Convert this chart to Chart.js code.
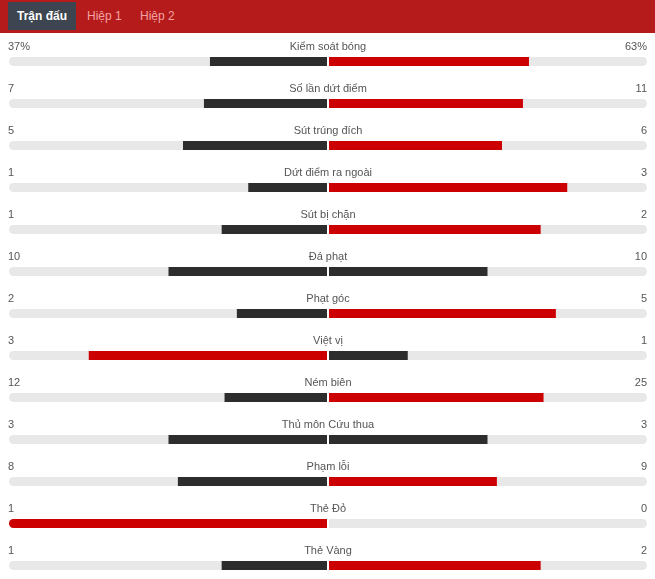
<!DOCTYPE html>
<html>
<head>
<meta charset="utf-8">
<script src="https://cdn.jsdelivr.net/npm/chart.js@4.4.1/dist/chart.umd.min.js"></script>
<style>
    html, body { margin: 0; padding: 0; background: #fff; }
    body { width: 655px; height: 579px; overflow: hidden; position: relative; font-family: "Liberation Sans", Arial, sans-serif; }
    .tabs { position: absolute; left: 0; top: 0; width: 655px; height: 33px; background: #b51b1b; }
    .tab { position: absolute; top: 2px; height: 28px; line-height: 28px; font-size: 12px; color: #f3a3a3; }
    .tab.active { background: #3d4650; color: #fff; font-weight: bold; padding: 0 9px; left: 8px; }
    #wrap { position: absolute; left: 0; top: 33px; width: 655px; height: 546px; }
</style>
</head>
<body>
<div class="tabs">
    <div class="tab active">Trận đấu</div>
    <div class="tab" style="left:87px">Hiệp 1</div>
    <div class="tab" style="left:140px">Hiệp 2</div>
</div>
<div id="wrap"><canvas id="statsChart"></canvas></div>
<script>
// match stats, home on the left, away on the right
const categories = ['Kiểm soát bóng', 'Số lần dứt điểm', 'Sút trúng đích', 'Dứt điểm ra ngoài', 'Sút bị chặn',
    'Đá phạt', 'Phạt góc', 'Việt vị', 'Ném biên', 'Thủ môn Cứu thua', 'Phạm lỗi', 'Thẻ Đỏ', 'Thẻ Vàng'];
const homeValues = [37, 7, 5, 1, 1, 10, 2, 3, 12, 3, 8, 1, 1];
const awayValues = [63, 11, 6, 3, 2, 10, 5, 1, 25, 3, 9, 0, 2];
const homeLabels = ['37%', '7', '5', '1', '1', '10', '2', '3', '12', '3', '8', '1', '1'];
const awayLabels = ['63%', '11', '6', '3', '2', '10', '5', '1', '25', '3', '9', '0', '2'];

const RED = '#cc0000';
const DARK = '#2d2d2d';
const TRACK = '#e8e8e8';
const GAP = 1 / 319;

function share(a, b) {
    return (a + b) === 0 ? 0 : a / (a + b);
}

const homeBars = homeValues.map((v, i) => {
    const f = share(v, awayValues[i]);
    return f > 0 ? [-f, -GAP] : null;
});
const awayBars = awayValues.map((v, i) => {
    const f = share(v, homeValues[i]);
    return f > 0 ? [GAP, f] : null;
});

function barColor(mine, other) {
    return mine > other ? RED : DARK;
}

const labelPlugin = {
    id: 'rowLabels',
    afterDatasetsDraw(chart) {
        const ctx = chart.ctx;
        const yScale = chart.scales.y;
        const area = chart.chartArea;
        ctx.save();
        ctx.font = '11px "Liberation Sans", Arial, sans-serif';
        ctx.fillStyle = '#555';
        ctx.textBaseline = 'middle';
        categories.forEach((c, i) => {
            const y = yScale.getPixelForValue(i) - 14.5;
            ctx.textAlign = 'center';
            ctx.fillText(c, (area.left + area.right) / 2, y);
            ctx.textAlign = 'left';
            ctx.fillText(homeLabels[i], area.left - 1, y);
            ctx.textAlign = 'right';
            ctx.fillText(awayLabels[i], area.right, y);
        });
        ctx.restore();
    }
};

const R = 4.5;

new Chart(document.getElementById('statsChart'), {
    type: 'bar',
    data: {
        labels: categories,
        datasets: [
            {
                data: homeBars,
                backgroundColor: ctx => barColor(homeValues[ctx.dataIndex], awayValues[ctx.dataIndex]),
                borderRadius: ctx => homeBars[ctx.dataIndex] && homeBars[ctx.dataIndex][0] <= -1
                    ? { topLeft: R, bottomLeft: R, topRight: 0, bottomRight: 0 } : 0,
                order: 0
            },
            {
                data: awayBars,
                backgroundColor: ctx => barColor(awayValues[ctx.dataIndex], homeValues[ctx.dataIndex]),
                borderRadius: ctx => awayBars[ctx.dataIndex] && awayBars[ctx.dataIndex][1] >= 1
                    ? { topLeft: 0, bottomLeft: 0, topRight: R, bottomRight: R } : 0,
                order: 1
            },
            {
                data: categories.map(() => [-1, -GAP]),
                backgroundColor: TRACK,
                borderRadius: { topLeft: R, bottomLeft: R, topRight: 0, bottomRight: 0 },
                order: 2
            },
            {
                data: categories.map(() => [GAP, 1]),
                backgroundColor: TRACK,
                borderRadius: { topLeft: 0, bottomLeft: 0, topRight: R, bottomRight: R },
                order: 3
            }
        ]
    },
    options: {
        indexAxis: 'y',
        responsive: true,
        maintainAspectRatio: false,
        animation: false,
        layout: { padding: { top: 28.5, bottom: 13.5, left: 9, right: 8 } },
        datasets: {
            bar: { grouped: false, barThickness: 9, borderSkipped: false, inflateAmount: 0, clip: false }
        },
        plugins: {
            legend: { display: false },
            tooltip: { enabled: false }
        },
        scales: {
            x: { display: false, min: -1, max: 1 },
            y: { display: false, offset: false }
        }
    },
    plugins: [labelPlugin]
});
</script>
</body>
</html>
